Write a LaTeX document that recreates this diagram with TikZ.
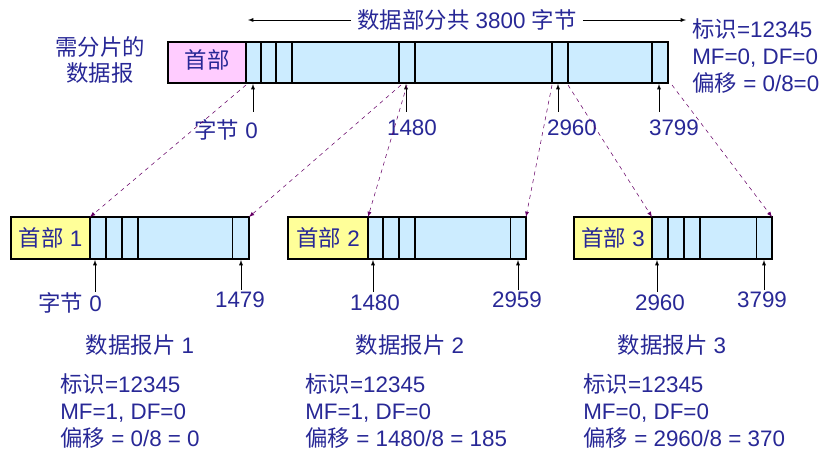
\documentclass[tikz,border=0pt]{standalone}
\usepackage{fontspec}
\setmainfont{Liberation Sans}
\newfontfamily\cjkf{Noto Sans CJK SC}
\newcommand{\zh}[1]{{\cjkf #1}}
\begin{document}
\begin{tikzpicture}[x=0.75pt,y=-0.75pt,
  txt/.style={text=tblue,font=\fontsize{16.8}{20}\selectfont,inner sep=0pt},
  info/.style={txt,align=left,anchor=west},
  body/.style={draw=black,line width=1pt,fill=bodyc},
  up/.style={-latex,black,thin},
  dsh/.style={-latex,dashed,draw=violet!80!black,thin}]
\definecolor{tblue}{RGB}{40,40,150}
\definecolor{bodyc}{RGB}{204,236,255}
\definecolor{pinkc}{RGB}{255,204,255}
\definecolor{yelc}{RGB}{255,255,153}
\useasboundingbox (0,0) rectangle (825,463);
% top datagram
\draw[body] (168,42) rectangle (668,83);
\draw[draw=black,line width=1pt,fill=pinkc] (168,42) rectangle (246,83);
\node[txt] (h0) at (207,60) {\zh{首部}};
\foreach \x in {261,276,292,399,415,552,568,652} \draw[thick] (\x,42) -- (\x,83);
\node[txt,align=center] (lab) at (100,60) {\zh{需分片的}\\\zh{数据报}};
\node[txt] (ttl) at (467,20) {\zh{数据部分共} 3800 \zh{字节}};
\coordinate (tl) at (248,20); \coordinate (tr) at (686,20);
\draw[-latex,black] (ttl.west) ++(-6,0) -- (tl);
\draw[-latex,black] (ttl.east) ++(6,0) -- (tr);
\node[info] (i0) at (692,56) {\zh{标识}=12345\\MF=0, DF=0\\\zh{偏移} = 0/8=0};
% top arrows
\foreach \x/\n in {253/a,406/b,558/c,659/d}{
  \coordinate (s\n) at (\x,112); \coordinate (e\n) at (\x,84);
  \draw[up] (s\n) -- (e\n);}
\node[txt] (la) at (226,130) {\zh{字节} 0};
\node[txt] (lb) at (412,128) {1480};
\node[txt] (lc) at (572,128) {2960};
\node[txt] (ld) at (674,128) {3799};
% fragments
\foreach \a/\h/\b/\d/\dd/\n/\lx/\ly/\rx/\rt in {11/90/249/{106,122,138}/232/1/70/{\zh{字节} 0}/240/1479,288/368/526/{383,399,415}/510/2/375/1480/517/2959,574/652/772/{668,684,700}/756/3/660/2960/762/3799}{
  \draw[body] (\a,217) rectangle (\b,259);
  \draw[draw=black,line width=1pt,fill=yelc] (\a,217) rectangle (\h,259);
  \node[txt] (f\n) at ({(\a+\h)/2},238) {\zh{首部} \n};
  \foreach \x in \d \draw[thick] (\x,217) -- (\x,259);
  \draw (\dd,217) -- (\dd,259);
  \coordinate (fl\n) at ({\h+5},292); \coordinate (fle\n) at ({\h+5},260);
  \draw[up] (fl\n) -- (fle\n);
  \coordinate (fr\n) at ({\b-8},290); \coordinate (fre\n) at ({\b-8},260);
  \draw[up] (fr\n) -- (fre\n);
  \node[txt] (fa\n) at (\lx,303) {\ly};
  \node[txt] (fb\n) at (\rx,300) {\rt};
}
% dashed
\coordinate (d1) at (246,85); \coordinate (d2) at (401,85); \coordinate (d3) at (407,85);
\coordinate (d4) at (552,85); \coordinate (d5) at (568,85); \coordinate (d6) at (672,85);
\coordinate (g1) at (90,217); \coordinate (g2) at (249,217); \coordinate (g3) at (368,217);
\coordinate (g4) at (526,217); \coordinate (g5) at (652,217); \coordinate (g6) at (772,217);
\foreach \i in {1,...,6} \draw[dsh] (d\i) -- (g\i);
% captions
\node[txt] (c1) at (140,345) {\zh{数据报片} 1};
\node[txt] (c2) at (410,345) {\zh{数据报片} 2};
\node[txt] (c3) at (672,345) {\zh{数据报片} 3};
\node[info] (n1) at (60,411) {\zh{标识}=12345\\MF=1, DF=0\\\zh{偏移} = 0/8 = 0};
\node[info] (n2) at (305,411) {\zh{标识}=12345\\MF=1, DF=0\\\zh{偏移} = 1480/8 = 185};
\node[info] (n3) at (583,411) {\zh{标识}=12345\\MF=0, DF=0\\\zh{偏移} = 2960/8 = 370};
\end{tikzpicture}
\end{document}
